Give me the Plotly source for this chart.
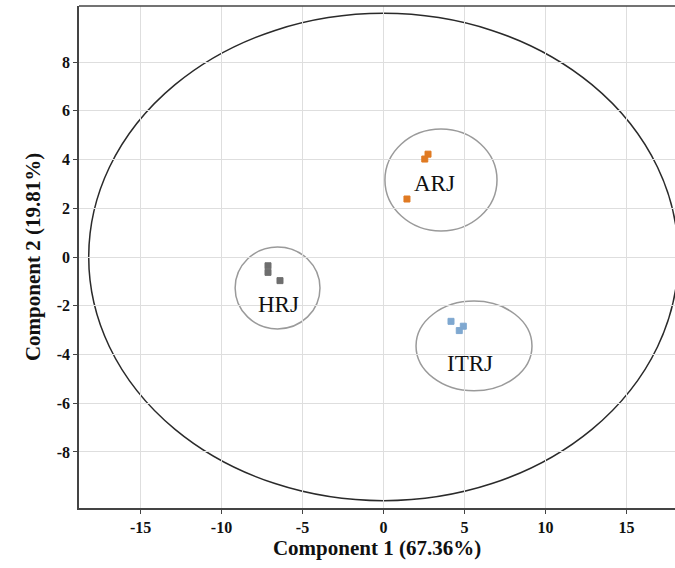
import plotly.graph_objects as go

# Scores (Component 1, Component 2)
arj_x = [2.75, 2.55, 1.45]
arj_y = [4.22, 4.02, 2.38]
hrj_x = [-7.13, -7.13, -6.39]
hrj_y = [-0.36, -0.63, -0.97]
itrj_x = [4.17, 4.93, 4.68]
itrj_y = [-2.64, -2.84, -3.02]

groups = ["ARJ", "HRJ", "ITRJ"]
colors = ["#E07A22", "#6E6E6E", "#7FA8D0"]
# group ellipse: center x, center y, semi-axis x, semi-axis y
ell_cx = [3.55, -6.54, 5.59]
ell_cy = [3.16, -1.27, -3.65]
ell_rx = [3.46, 2.62, 3.58]
ell_ry = [2.09, 1.68, 1.84]
label_x = [3.13, -6.51, 5.34]
label_y = [3.03, -1.93, -4.39]

# Hotelling ellipse
big_rx, big_ry = 18.2, 10.0

x_ticks = [-15, -10, -5, 0, 5, 10, 15]
y_ticks = [-8, -6, -4, -2, 0, 2, 4, 6, 8]

fig = go.Figure()
for xs, ys, name, c in zip([arj_x, hrj_x, itrj_x], [arj_y, hrj_y, itrj_y], groups, colors):
    fig.add_trace(go.Scatter(x=xs, y=ys, mode="markers", name=name,
                             marker=dict(symbol="square", size=6, color=c,
                                         line=dict(color=c, width=1))))

shapes = [dict(type="circle", xref="x", yref="y", x0=-big_rx, x1=big_rx, y0=-big_ry, y1=big_ry,
               line=dict(color="#2a2a2a", width=1.5), layer="below"),
          dict(type="line", xref="paper", yref="paper", x0=0, x1=1, y0=1, y1=1,
               line=dict(color="#444", width=1.5))]
for cx, cy, rx, ry in zip(ell_cx, ell_cy, ell_rx, ell_ry):
    shapes.append(dict(type="circle", xref="x", yref="y", x0=cx - rx, x1=cx + rx,
                       y0=cy - ry, y1=cy + ry, line=dict(color="#9a9a9a", width=1.5), layer="below"))

annotations = [dict(x=lx, y=ly, text=g, showarrow=False,
                    font=dict(family="Liberation Serif", size=23, color="#111"))
               for lx, ly, g in zip(label_x, label_y, groups)]

fig.update_layout(
    width=675, height=568, showlegend=False,
    plot_bgcolor="white", paper_bgcolor="white",
    margin=dict(l=79, r=0, t=6, b=60),
    shapes=shapes, annotations=annotations,
    font=dict(family="Liberation Serif", color="#111"),
)
fig.update_xaxes(range=[-18.8, 18.0], tickvals=x_ticks, ticktext=["<b>%d</b>" % v for v in x_ticks],
                 showgrid=True, gridcolor="#dedede", gridwidth=1, zeroline=False,
                 showline=True, linecolor="#444", linewidth=1.5,
                 ticks="outside", ticklen=4, tickcolor="#444",
                 tickfont=dict(family="Liberation Serif", size=16, color="#111"),
                 title=dict(text="<b>Component 1 (67.36%)</b>", standoff=2,
                            font=dict(family="Liberation Serif", size=21, color="#111")))
fig.update_yaxes(range=[-10.3, 10.3], tickvals=y_ticks, ticktext=["<b>%d</b>" % v for v in y_ticks],
                 showgrid=True, gridcolor="#dedede", gridwidth=1, zeroline=False,
                 showline=True, linecolor="#444", linewidth=1.5,
                 ticks="outside", ticklen=4, tickcolor="#444",
                 tickfont=dict(family="Liberation Serif", size=16, color="#111"),
                 title=dict(text="<b>Component 2 (19.81%)</b>", standoff=10,
                            font=dict(family="Liberation Serif", size=21, color="#111")))

fig.write_html("out.html")
